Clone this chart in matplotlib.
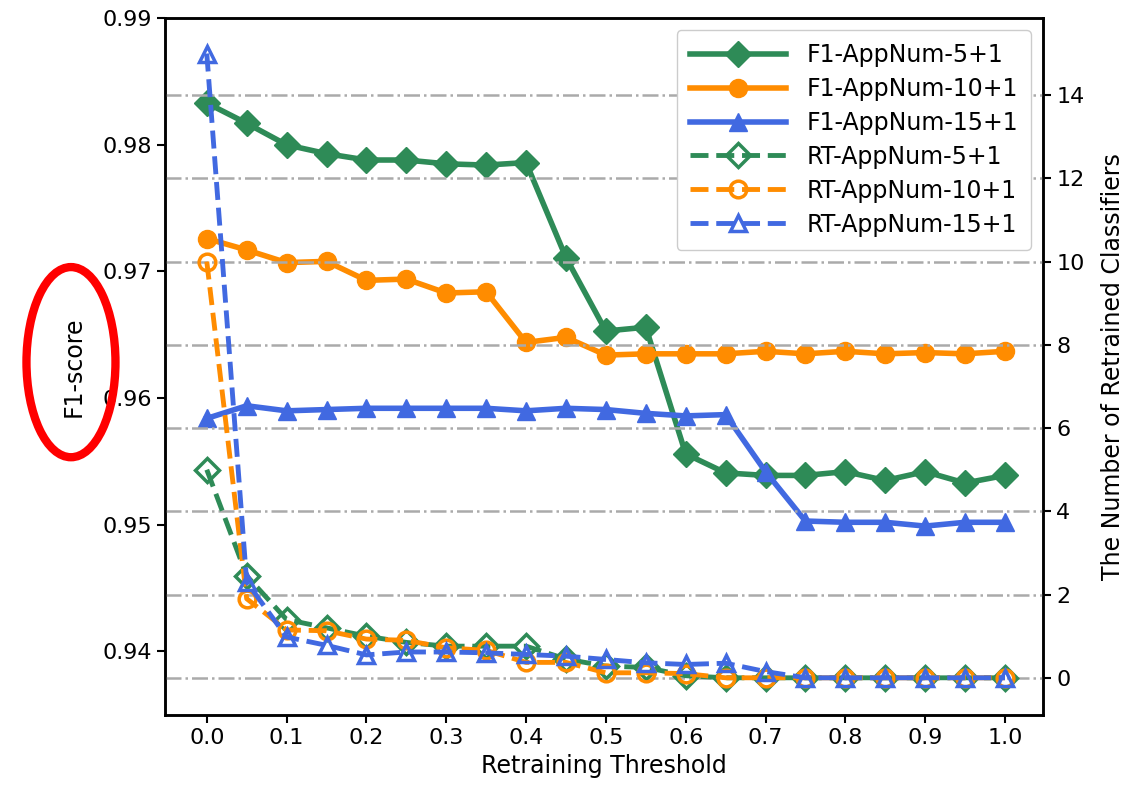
import numpy as np
import matplotlib
matplotlib.use("Agg")
import matplotlib.pyplot as plt
from matplotlib.patches import Ellipse

# retraining thresholds
thresholds = [0.0, 0.05, 0.1, 0.15, 0.2, 0.25, 0.3, 0.35, 0.4, 0.45, 0.5,
              0.55, 0.6, 0.65, 0.7, 0.75, 0.8, 0.85, 0.9, 0.95, 1.0]

# F1-score (left axis)
f1_5 = [0.9833, 0.9817, 0.9800, 0.9793, 0.9788, 0.9788, 0.9785, 0.9784, 0.9786, 0.9711, 0.9653,
        0.9656, 0.9556, 0.9541, 0.9539, 0.9539, 0.9542, 0.9535, 0.9542, 0.9533, 0.9539]
f1_10 = [0.9726, 0.9717, 0.9707, 0.9708, 0.9693, 0.9694, 0.9683, 0.9684, 0.9644, 0.9648, 0.9634,
         0.9635, 0.9635, 0.9635, 0.9637, 0.9635, 0.9637, 0.9635, 0.9636, 0.9635, 0.9637]
f1_15 = [0.9584, 0.9594, 0.9590, 0.9591, 0.9592, 0.9592, 0.9592, 0.9592, 0.9590, 0.9592, 0.9591,
         0.9588, 0.9586, 0.9587, 0.9542, 0.9503, 0.9502, 0.9502, 0.9499, 0.9502, 0.9502]

# number of retrained classifiers (right axis)
rt_5 = [5.0, 2.45, 1.4, 1.2, 1.0, 0.85, 0.76, 0.76, 0.76, 0.45, 0.28,
        0.25, 0.05, 0.0, 0.0, 0.0, 0.0, 0.0, 0.0, 0.0, 0.0]
rt_10 = [10.0, 1.9, 1.15, 1.13, 0.93, 0.9, 0.72, 0.66, 0.37, 0.37, 0.12,
         0.12, 0.1, 0.0, 0.0, 0.0, 0.0, 0.0, 0.0, 0.0, 0.0]
rt_15 = [15.0, 2.3, 0.98, 0.78, 0.55, 0.62, 0.62, 0.6, 0.56, 0.52, 0.44,
         0.36, 0.32, 0.35, 0.15, 0.0, 0.0, 0.0, 0.0, 0.0, 0.0]

green = "#2e8b57"
orange = "#ff8c00"
blue = "#4169e1"

fig = plt.figure(figsize=(11.41, 7.89), dpi=100)
ax = fig.add_axes([0.1445, 0.094, 0.7695, 0.883])
ax2 = ax.twinx()

l1, = ax.plot(thresholds, f1_5, "-D", color=green, lw=4, ms=13, label="F1-AppNum-5+1")
l2, = ax.plot(thresholds, f1_10, "-o", color=orange, lw=4, ms=13, label="F1-AppNum-10+1")
l3, = ax.plot(thresholds, f1_15, "-^", color=blue, lw=4, ms=13, label="F1-AppNum-15+1")

l4, = ax2.plot(thresholds, rt_5, "--D", color=green, lw=3.5, ms=12, mfc="none", mew=2.5,
               label="RT-AppNum-5+1")
l5, = ax2.plot(thresholds, rt_10, "--o", color=orange, lw=3.5, ms=12, mfc="none", mew=2.5,
               label="RT-AppNum-10+1")
l6, = ax2.plot(thresholds, rt_15, "--^", color=blue, lw=3.5, ms=12, mfc="none", mew=2.5,
               label="RT-AppNum-15+1")

ax.set_xlim(-0.0525, 1.0475)
ax.set_ylim(0.935, 0.99)
ax.set_yticks([0.94, 0.95, 0.96, 0.97, 0.98, 0.99])
ax.set_xticks(np.arange(0, 1.01, 0.1))
ax.set_xticklabels(["%.1f" % v for v in np.arange(0, 1.01, 0.1)])
ax2.set_ylim(-0.89, 15.85)
ax2.set_yticks(range(0, 15, 2))
ax2.grid(axis="y", linestyle="-.", color="#aaaaaa", lw=1.8)

ax.set_xlabel("Retraining Threshold", fontsize=17)
ax.set_ylabel("F1-score", fontsize=17, labelpad=12)
ax2.set_ylabel("The Number of Retrained Classifiers", fontsize=17, labelpad=12)

for a in (ax, ax2):
    a.tick_params(labelsize=16, length=6, width=1.5)
    for s in a.spines.values():
        s.set_linewidth(1.8)

ax2.legend(handles=[l1, l2, l3, l4, l5, l6], loc="upper right", fontsize=17,
           handlelength=4.1, handletextpad=0.85, borderpad=0.55, borderaxespad=0.5,
           labelspacing=0.42, framealpha=1, edgecolor="#cccccc")

# red ellipse drawn around the y label
fig.patches.append(Ellipse((0.0622, 0.541), 0.078, 0.241, transform=fig.transFigure,
                           fill=False, edgecolor="#ff0000", lw=6, figure=fig))

fig.savefig("out.png", dpi=100)
